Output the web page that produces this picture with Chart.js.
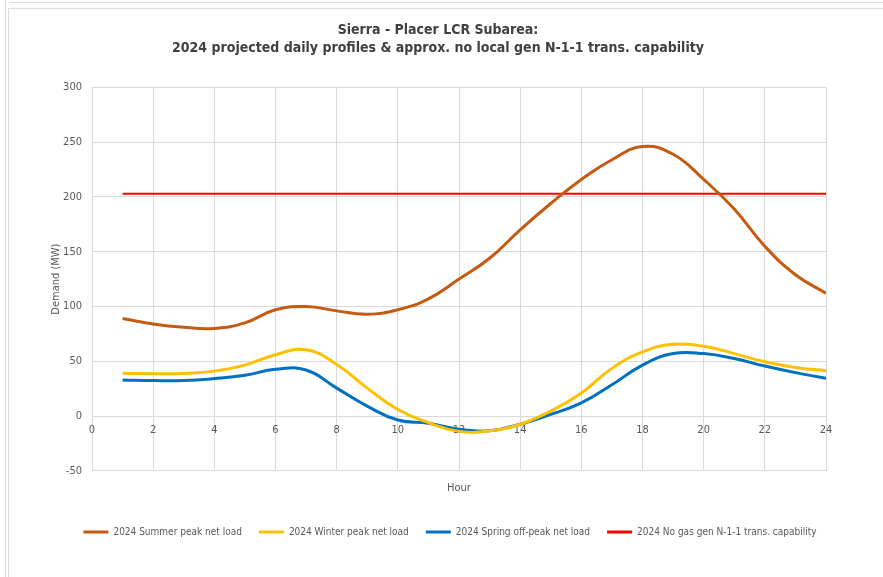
<!DOCTYPE html>
<html>
<head>
<meta charset="utf-8">
<script src="https://cdn.jsdelivr.net/npm/chart.js@4.4.1/dist/chart.umd.min.js"></script>
<style>
  body { margin: 0; background: #fff; }
  #wrap { position: relative; width: 883px; height: 577px; }
  .ln { position: absolute; background: #dcdcdc; }
</style>
</head>
<body>
<div id="wrap">
  <canvas id="loadChart" width="883" height="577"></canvas>
  <div class="ln" style="left:5px;top:0;width:1px;height:577px"></div>
  <div class="ln" style="left:8px;top:8px;width:1px;height:569px"></div>
  <div class="ln" style="left:9px;top:2px;width:874px;height:1px"></div>
  <div class="ln" style="left:9px;top:8px;width:874px;height:1px"></div>
</div>
<script>
var hours = [1, 2, 3, 4, 5, 6, 7, 8, 9, 10, 11, 12, 13, 14, 15, 16, 17, 18, 19, 20, 21, 22, 23, 24];
var summerPeak = [89, 84, 81, 80, 85, 97, 100, 96, 93, 97, 107, 125, 144, 170, 194, 216, 234, 246, 239, 216, 189, 155, 129, 112];
var winterPeak = [39, 38.7, 38.9, 41, 46.5, 56, 60.5, 47, 25.5, 6, -6, -14, -13.5, -7.5, 4.5, 21, 43.5, 58.5, 65.5, 63.7, 57, 49.5, 44.4, 41.4];
var springOffPeak = [33, 32.4, 32.4, 34.2, 37.2, 42.6, 42, 25.5, 9, -3.6, -6.6, -12, -13.5, -7.5, 1.5, 12, 28.5, 46.5, 57, 57, 52.5, 45.6, 39.6, 34.5];
var transCapability = [203, 203, 203, 203, 203, 203, 203, 203, 203, 203, 203, 203, 203, 203, 203, 203, 203, 203, 203, 203, 203, 203, 203, 203];
var yTicks = [-50, 0, 50, 100, 150, 200, 250, 300];
var xTicks = [0, 2, 4, 6, 8, 10, 12, 14, 16, 18, 20, 22, 24];

var fontFam = "'DejaVu Sans Condensed', sans-serif";

function toPoints(vals) {
    return hours.map(function(h, i) { return { x: h, y: vals[i] }; });
}

function series(label, vals, color, width) {
    return {
        label: label,
        data: toPoints(vals),
        borderColor: color,
        backgroundColor: color,
        borderWidth: width,
        pointRadius: 0,
        tension: 0.45,
        fill: false
    };
}

// nudge the legend a little right so it sits under the plot like the original
var legendNudge = {
    id: 'legendNudge',
    afterLayout: function(chart) {
        if (chart.legend) {
            chart.legend.left += 12;
            chart.legend.right += 12;
        }
    }
};

var ctx = document.getElementById('loadChart').getContext('2d');
var loadChart = new Chart(ctx, {
    type: 'line',
    data: {
        datasets: [
            series('2024 Summer peak net load', summerPeak, '#C55A11', 3),
            series('2024 Winter peak net load', winterPeak, '#FFC000', 3),
            series('2024 Spring off-peak net load', springOffPeak, '#0070C0', 3),
            series('2024 No gas gen N-1-1 trans. capability', transCapability, '#FF0000', 2)
        ]
    },
    options: {
        responsive: false,
        animation: false,
        layout: { padding: { left: 50, right: 57, top: 13, bottom: 30 } },
        plugins: {
            title: {
                display: true,
                text: ['Sierra - Placer LCR Subarea:', '2024 projected daily profiles & approx. no local gen N-1-1 trans. capability'],
                color: '#404040',
                font: { family: fontFam, size: 14, weight: 'bold', lineHeight: 1.3 },
                padding: { top: 8, bottom: 30 }
            },
            legend: {
                position: 'bottom',
                labels: {
                    boxWidth: 25,
                    boxHeight: 3,
                    padding: 17,
                    color: '#595959',
                    font: { family: fontFam, size: 10 },
                    generateLabels: function(chart) {
                        var items = Chart.defaults.plugins.legend.labels.generateLabels(chart);
                        items.forEach(function(it) { it.lineWidth = 0; });
                        return items;
                    }
                }
            },
            tooltip: { enabled: false }
        },
        scales: {
            x: {
                type: 'linear',
                position: { y: 0 },
                min: 0,
                max: 24,
                afterBuildTicks: function(scale) {
                    scale.ticks = xTicks.map(function(v) { return { value: v }; });
                },
                grid: { color: '#d9d9d9', drawTicks: false },
                border: { display: false },
                ticks: { color: '#595959', padding: 8, font: { family: fontFam, size: 11 } }
            },
            xTitle: {
                type: 'linear',
                position: 'bottom',
                min: 0,
                max: 24,
                grid: { display: false },
                border: { display: false },
                ticks: { display: false },
                title: {
                    display: true,
                    text: 'Hour',
                    color: '#595959',
                    font: { family: fontFam, size: 11 },
                    padding: { top: 3, bottom: 15 }
                }
            },
            y: {
                min: -50,
                max: 300,
                afterBuildTicks: function(scale) {
                    scale.ticks = yTicks.map(function(v) { return { value: v }; });
                },
                afterFit: function(scale) { scale.width = 42; },
                grid: { color: '#d9d9d9', drawTicks: false },
                border: { display: false },
                ticks: { color: '#595959', padding: 10, font: { family: fontFam, size: 11 } },
                title: {
                    display: true,
                    text: 'Demand (MW)',
                    color: '#595959',
                    font: { family: fontFam, size: 11 },
                    padding: { top: 0, bottom: 0 }
                }
            }
        }
    },
    plugins: [legendNudge]
});
</script>
</body>
</html>
